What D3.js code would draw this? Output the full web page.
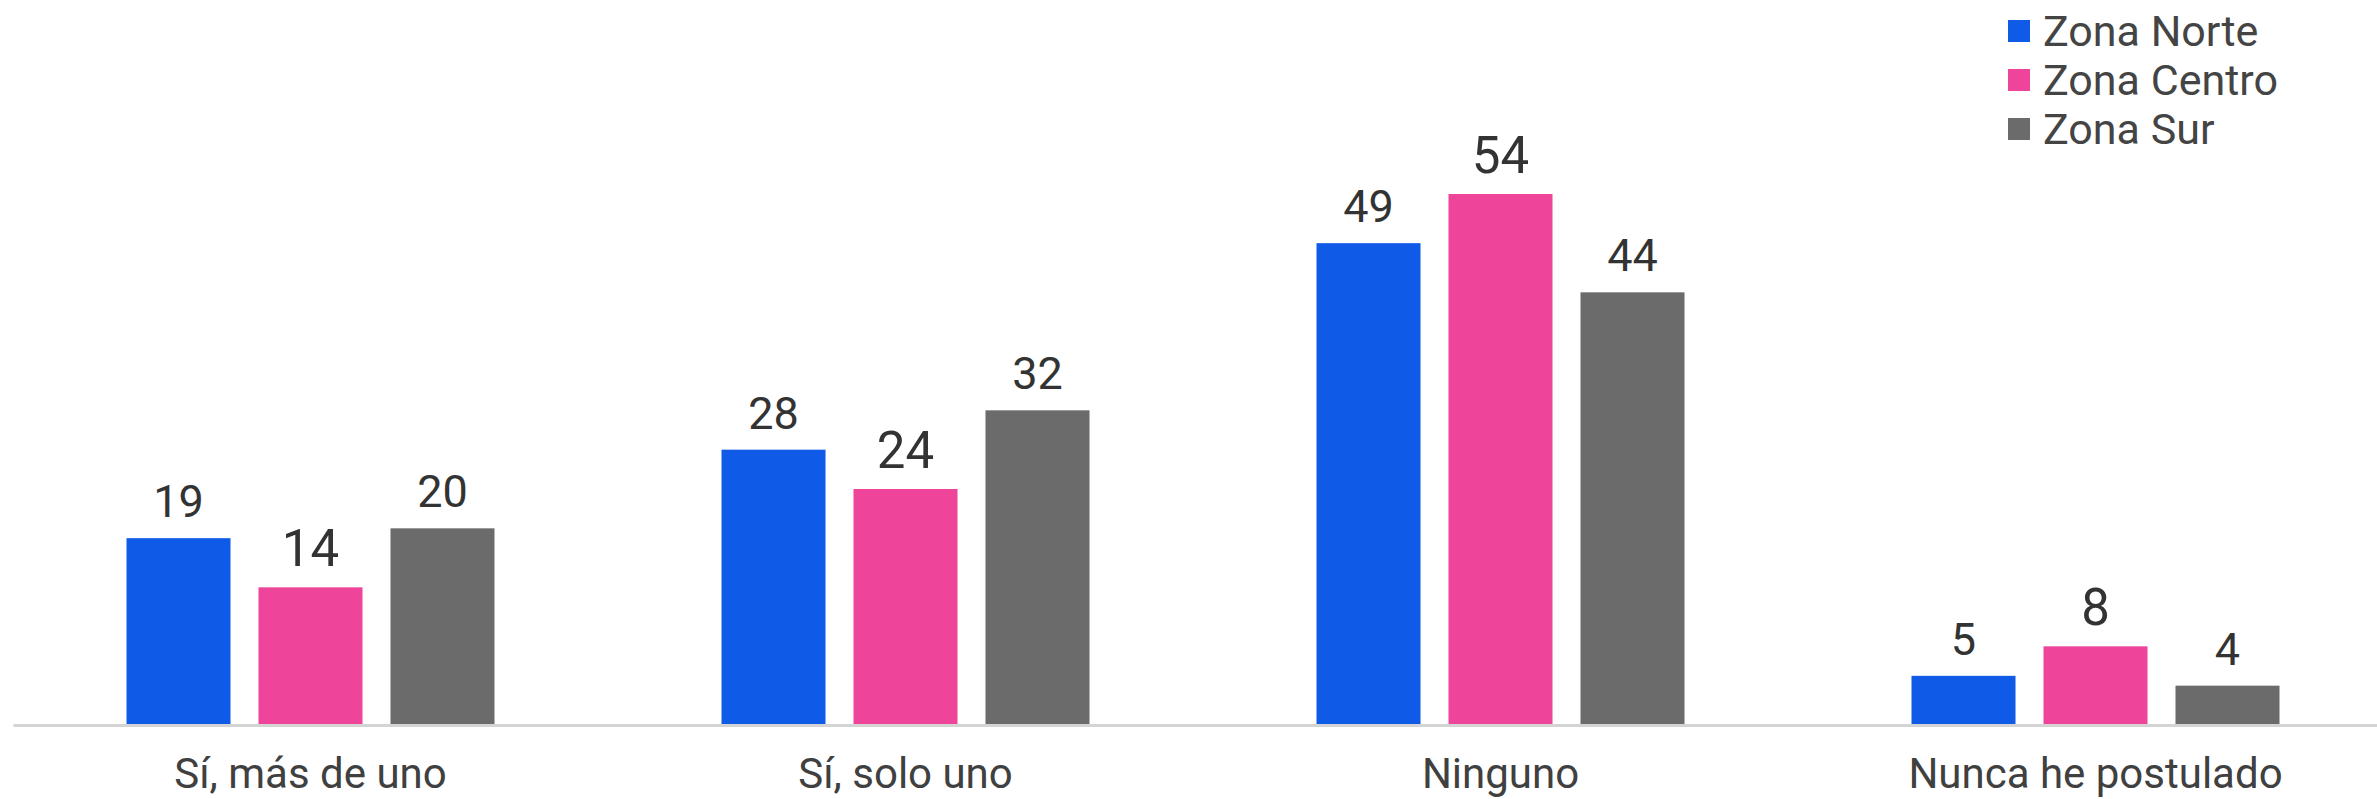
<!DOCTYPE html>
<html>
<head>
<meta charset="utf-8">
<script src="https://cdn.jsdelivr.net/npm/d3@7"></script>
<style>
  body { margin: 0; background: #fff; }
  svg { display: block; font-family: Roboto, "Noto Sans", sans-serif; }
</style>
</head>
<body>
<script>
// data
var categories = ["Sí, más de uno", "Sí, solo uno", "Ninguno", "Nunca he postulado"];
var seriesNames = ["Zona Norte", "Zona Centro", "Zona Sur"];
var norte  = [19, 28, 49, 5];
var centro = [14, 24, 54, 8];
var sur    = [20, 32, 44, 4];
var colors = ["#0f5ae6", "#ee4499", "#6b6b6b"];

var seriesValues = [norte, centro, sur];

var width = 2377, height = 799;
var baseline = 725;

var svg = d3.select("body")
  .append("svg")
    .attr("width", width)
    .attr("height", height);

// scales
var x0 = d3.scaleBand()
    .domain(categories)
    .range([13, 2393])
    .padding(0);

var groupW = 368;
var x1 = d3.scaleBand()
    .domain(seriesNames)
    .range([(x0.bandwidth() - groupW) / 2, (x0.bandwidth() + groupW) / 2])
    .paddingInner(0.212)
    .paddingOuter(0);

var y = d3.scaleLinear()
    .domain([0, 60])
    .range([baseline, baseline - 590]);

// build rows for each category
var rows = categories.map(function(c, i) {
  return {
    cat: c,
    vals: seriesNames.map(function(s, j) { return {name: s, idx: j, value: seriesValues[j][i]}; })
  };
});

var groups = svg.selectAll("g.group")
    .data(rows)
    .enter()
    .append("g")
      .attr("class", "group")
      .attr("transform", function(d) { return "translate(" + x0(d.cat) + ",0)"; });

groups.selectAll("rect")
    .data(function(d) { return d.vals; })
    .enter()
    .append("rect")
      .attr("x", function(d) { return x1(d.name); })
      .attr("y", function(d) { return y(d.value); })
      .attr("width", x1.bandwidth())
      .attr("height", function(d) { return baseline - y(d.value); })
      .style("fill", function(d) { return colors[d.idx]; });

// value labels (the centre series is printed a bit larger)
groups.selectAll("text.val")
    .data(function(d) { return d.vals; })
    .enter()
    .append("text")
      .attr("class", "val")
      .attr("x", function(d) { return x1(d.name) + x1.bandwidth() / 2; })
      .attr("y", function(d) { return y(d.value) - 21; })
      .attr("text-anchor", "middle")
      .style("font-size", function(d) { return d.idx == 1 ? "51px" : "45px"; })
      .style("fill", "#333333")
      .text(function(d) { return d.value; });

// x axis
var xAxis = svg.append("g")
    .attr("transform", "translate(0," + baseline + ")")
    .call(d3.axisBottom(x0).tickSize(0).tickPadding(33));

xAxis.select(".domain")
    .attr("stroke", "#d4d4d4")
    .attr("stroke-width", 3);

xAxis.selectAll("text")
    .style("font-size", "42px")
    .style("font-family", "Roboto, 'Noto Sans', sans-serif")
    .style("fill", "#404040");

// legend
var legend = svg.append("g")
    .attr("transform", "translate(2008,31)");

var items = legend.selectAll("g")
    .data(seriesNames)
    .enter()
    .append("g")
      .attr("transform", function(d, i) { return "translate(0," + i * 49 + ")"; });

items.append("rect")
    .attr("x", 0)
    .attr("y", -11)
    .attr("width", 22)
    .attr("height", 22)
    .style("fill", function(d, i) { return colors[i]; });

items.append("text")
    .attr("x", 35)
    .attr("y", 0)
    .attr("dy", "0.36em")
    .style("font-size", "43px")
    .style("fill", "#444444")
    .text(function(d) { return d; });
</script>
</body>
</html>
